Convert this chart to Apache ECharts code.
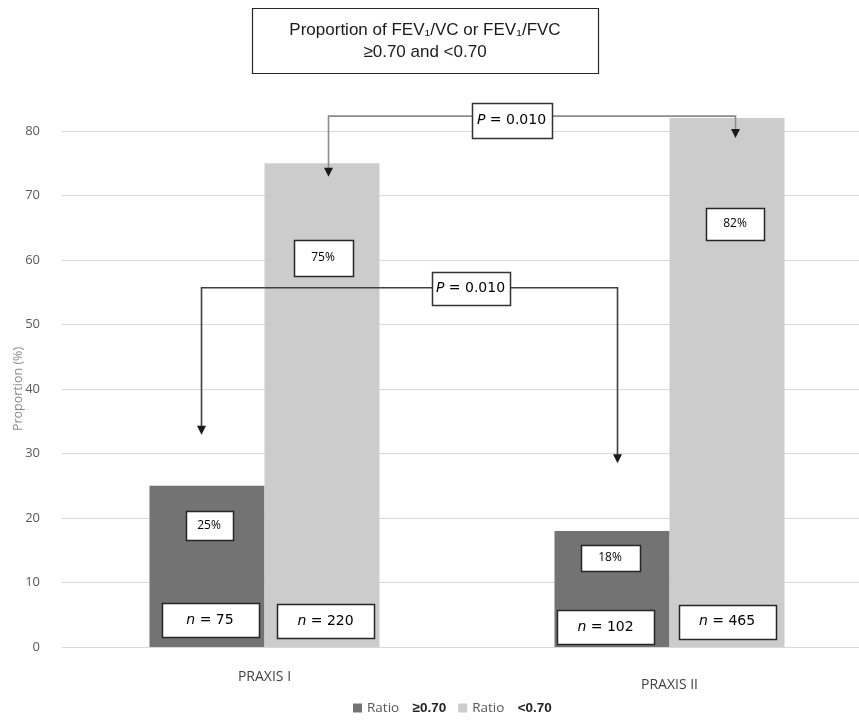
<!DOCTYPE html>
<html>
<head>
<meta charset="utf-8">
<script src="https://cdn.jsdelivr.net/npm/echarts@6/dist/echarts.min.js"></script>
<style>html,body{margin:0;padding:0;background:#fff}#c{width:859px;height:722px}</style>
</head>
<body>
<div id="c"></div>
<script>
// ---- data ----
const categories = ['PRAXIS I', 'PRAXIS II'];
const seriesNames = ['Ratio ≥0.70', 'Ratio <0.70'];
const ratioHigh = [25, 18];     // % with FEV1/VC >= 0.70
const ratioLow = [75, 82];      // % with FEV1/VC < 0.70
const nHigh = [75, 102];
const nLow = [220, 465];
const pValues = ['0.010', '0.010'];
const yTicks = [0, 80, 10];     // min, max, interval

const chart = echarts.init(document.getElementById('c'), null, {renderer: 'canvas'});

const option = {
  animation: false,
  backgroundColor: '#ffffff',
  grid: {left: 62, right: -13, top: 131, bottom: 75, containLabel: false, outerBoundsMode: 'none'},
  legend: {
    bottom: 2,
    left: 348,
    icon: 'rect',
    itemWidth: 9,
    itemHeight: 9,
    itemGap: 12,
    data: seriesNames,
    formatter: function (name) {
      const parts = name.split(' ');
      return '{a|' + parts[0] + '}    {b|' + parts[1] + '}';
    },
    textStyle: {
      rich: {
        a: {fontFamily: 'Open Sans', fontSize: 13.5, color: '#595959'},
        b: {fontFamily: 'Liberation Sans', fontSize: 13.5, fontWeight: 'bold', color: '#222'}
      }
    }
  },
  xAxis: {
    type: 'category',
    data: [
      {value: categories[0]},
      {value: categories[1], textStyle: {padding: [8, 0, 0, 0]}}
    ],
    axisLine: {show: true, lineStyle: {color: '#d9d9d9', width: 1}},
    axisTick: {show: false},
    axisLabel: {margin: 23, fontFamily: 'Open Sans', fontSize: 14, color: '#404040'},
    splitLine: {show: false}
  },
  yAxis: {
    type: 'value',
    min: yTicks[0], max: yTicks[1], interval: yTicks[2],
    name: 'Proportion (%)',
    nameLocation: 'middle',
    nameGap: 37,
    nameMoveOverlap: false,
    nameRotate: 90,
    nameTextStyle: {fontFamily: 'Open Sans', fontSize: 12.5, color: '#8c8c8c'},
    axisLine: {show: false},
    axisTick: {show: false},
    axisLabel: {margin: 22, fontFamily: 'Open Sans', fontSize: 13, color: '#595959'},
    splitLine: {lineStyle: {color: '#d9d9d9', width: 1}}
  },
  series: [
    {
      name: seriesNames[0], type: 'bar', data: ratioHigh, barWidth: 115, barGap: '0%',
      clip: false, itemStyle: {color: '#737373'}
    },
    {
      name: seriesNames[1], type: 'bar', data: ratioLow, barWidth: 115, barGap: '0%',
      clip: false, itemStyle: {color: '#cccccc'}
    }
  ]
};
chart.setOption(option);

// ---- annotations positioned through the chart's own scales ----
function P(ci, v, dx) {
  const p = chart.convertToPixel({gridIndex: 0}, [ci, v]);
  return [p[0] + (dx || 0), p[1]];
}
const HB = 57.5; // half of bar width
const g = [];

function box(cx, cy, w, h, richText, rich, stroke) {
  g.push({
    type: 'rect', shape: {x: Math.round(cx - w / 2) + 0.5, y: Math.round(cy - h / 2) + 0.5, width: w, height: h},
    style: {fill: '#fff', stroke: stroke || '#262626', lineWidth: 1.5}, z: 10
  });
  g.push({
    type: 'text', x: cx, y: cy, z: 11,
    style: {text: richText, rich: rich, align: 'center', verticalAlign: 'middle'}
  });
}

const pctRich = {t: {fontFamily: 'Open Sans', fontSize: 12, color: '#595959'}};
const nRich = {
  i: {fontFamily: 'DejaVu Sans', fontStyle: 'italic', fontSize: 14, color: '#262626'},
  t: {fontFamily: 'DejaVu Sans', fontSize: 14, color: '#262626'}
};

// percentage boxes
[[0, 18.8, 2, 47, 29], [1, 13.8, -2, 59, 26]].forEach(function (a) {
  const c = P(a[0], a[1], -HB + a[2]);
  box(c[0], c[1], a[3], a[4], '{t|' + ratioHigh[a[0]] + '%}', pctRich);
});
[[0, 60.3, 1, 59, 36], [1, 65.6, 8, 58, 32]].forEach(function (a) {
  const c = P(a[0], a[1], HB + a[2]);
  box(c[0], c[1], a[3], a[4], '{t|' + ratioLow[a[0]] + '%}', pctRich);
});
// n boxes
[[0, 4.2, 3], [1, 3.1, -6.5]].forEach(function (a) {
  const c = P(a[0], a[1], -HB + a[2]);
  box(c[0], c[1], 97, 34, '{i|n}{t| = ' + nHigh[a[0]] + '}', nRich);
});
[[0, 4.0, 3.5], [1, 3.9, 0]].forEach(function (a) {
  const c = P(a[0], a[1], HB + a[2]);
  box(c[0], c[1], 97, 34, '{i|n}{t| = ' + nLow[a[0]] + '}', nRich);
});

// brackets with arrows
function bracket(x1, tip1, x2, tip2, yTop, color) {
  const a = P(x1[0], tip1, x1[1]);
  const b = P(x1[0], yTop, x1[1]);
  const c = P(x2[0], yTop, x2[1]);
  const d = P(x2[0], tip2, x2[1]);
  g.push({
    type: 'polyline', z: 8,
    shape: {points: [[a[0], a[1] - 8], b, c, [d[0], d[1] - 8]]},
    style: {stroke: color, lineWidth: 1.6, fill: null}
  });
  [a, d].forEach(function (t) {
    g.push({
      type: 'polygon', z: 8,
      shape: {points: [[t[0] - 4.5, t[1] - 9], [t[0] + 4.5, t[1] - 9], [t[0], t[1]]]},
      style: {fill: '#1a1a1a'}
    });
  });
}
bracket([0, 64], 72.9, [1, 66], 78.9, 82.3, '#8c8c8c');
bracket([0, -63], 32.9, [1, -52], 28.5, 55.7, '#404040');

const pRich = nRich;
const mid = (P(0, 0)[0] + P(1, 0)[0]) / 2;
box(mid + 44.5, P(0, 82.3)[1] + 4, 80, 35, '{i|P}{t| = ' + pValues[0] + '}', pRich, '#333');
box(mid + 3.5, P(0, 55.7)[1] + 0.5, 78, 33, '{i|P}{t| = ' + pValues[1] + '}', pRich, '#333');

// title box
g.push({
  type: 'rect', z: 10, shape: {x: 252.5, y: 8.5, width: 346, height: 65},
  style: {fill: '#fff', stroke: '#262626', lineWidth: 1.2}
});
g.push({
  type: 'text', z: 11, x: 425, y: 41,
  style: {
    text: 'Proportion of FEV₁/VC or FEV₁/FVC\n≥0.70 and <0.70',
    fontFamily: 'Liberation Sans', fontSize: 17, lineHeight: 22, fill: '#1a1a1a',
    align: 'center', verticalAlign: 'middle'
  }
});

chart.setOption({graphic: {elements: g}});
</script>
</body>
</html>
